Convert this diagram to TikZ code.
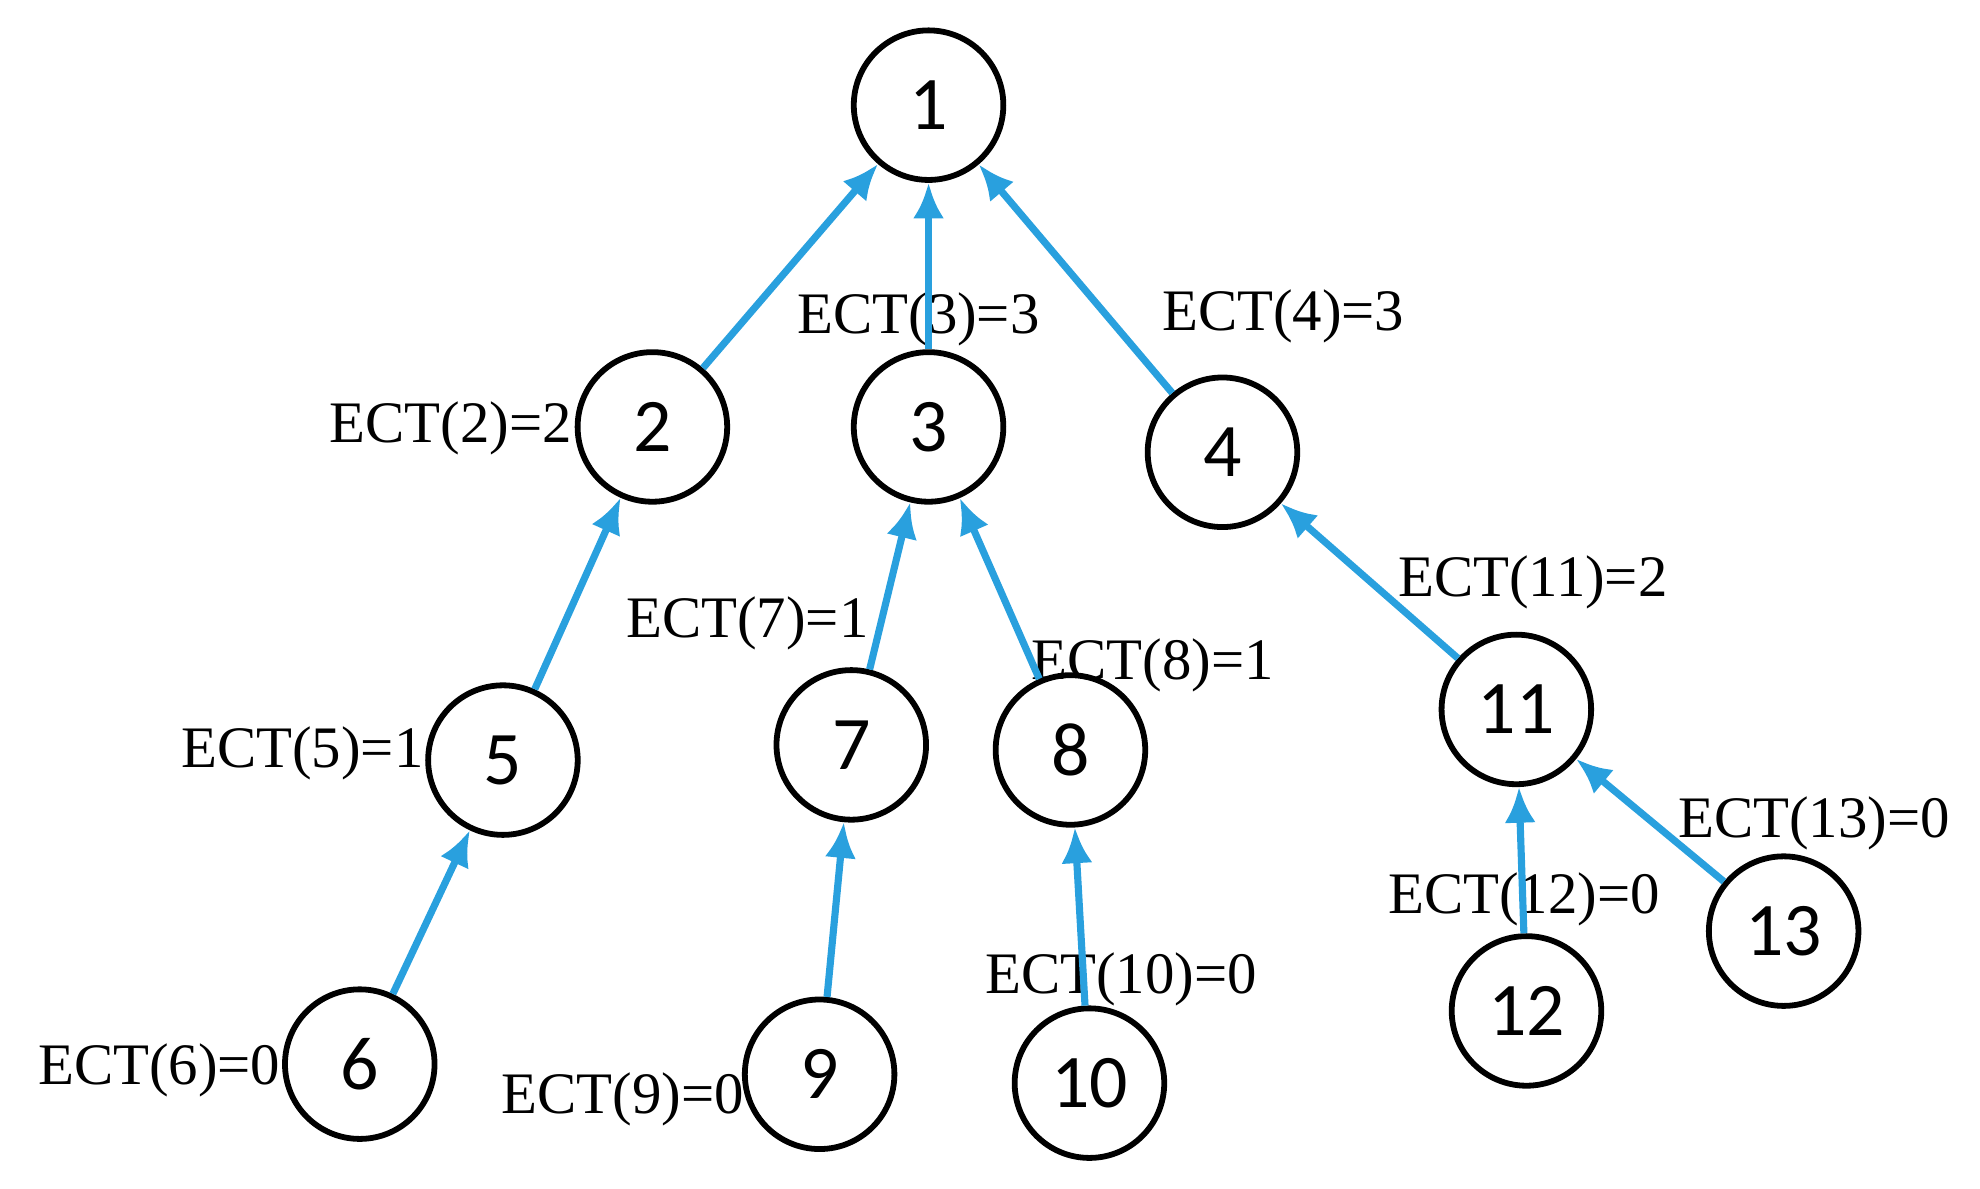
\documentclass[tikz,border=0pt]{standalone}
\usepackage{fontspec}
\setmainfont{Liberation Serif}
\newfontfamily\numf{Carlito}
\usetikzlibrary{arrows.meta}
\definecolor{eb}{RGB}{41,160,222}
\begin{document}
\begin{tikzpicture}[x=0.01cm,y=-0.01cm,
  nd/.style={circle,draw=black,line width=1.3pt,fill=white,minimum size=1.18cm,inner sep=0pt,font=\numf\fontsize{17}{17}\selectfont},
  lb/.style={font=\fontsize{13.2}{14}\selectfont,inner sep=0pt},
  ed/.style={draw=eb,line width=1.6pt,-{Latex[length=8pt,width=7pt]}}]
\useasboundingbox (0,0) rectangle (1563,938);
\node[nd] (n1) at (733,83) {1};
\node[nd] (n2) at (515,337) {2};
\node[nd] (n3) at (733,337) {3};
\node[nd] (n4) at (965,357) {4};
\node[nd] (n5) at (397,600) {5};
\node[nd] (n6) at (284,840) {6};
\node[nd] (n7) at (672,588) {7};
\node[nd] (n8) at (845,592) {8};
\node[nd] (n9) at (647,848) {9};
\node[nd] (n10) at (860,855) {10};
\node[nd] (n11) at (1197,560) {11};
\node[nd] (n12) at (1205,798) {12};
\node[nd] (n13) at (1408,735) {13};
\node[lb,anchor=east] (l2) at (452,338) {ECT(2)=2};
\node[lb] (l3) at (725,252) {ECT(3)=3};
\node[lb] (l4) at (1013,250) {ECT(4)=3};
\node[lb] (l7) at (590,492) {ECT(7)=1};
\node[lb] (l8) at (910,525) {ECT(8)=1};
\node[lb] (l11) at (1210,460) {ECT(11)=2};
\node[lb,anchor=east] (l5) at (335,595) {ECT(5)=1};
\node[lb,anchor=east] (l6) at (222,845) {ECT(6)=0};
\node[lb,anchor=east] (l9) at (588,868) {ECT(9)=0};
\node[lb] (l10) at (885,773) {ECT(10)=0};
\node[lb] (l12) at (1203,710) {ECT(12)=0};
\node[lb] (l13) at (1432,650) {ECT(13)=0};
\draw[ed] (n2) -- (n1);
\draw[ed] (n3) -- (n1);
\draw[ed] (n4) -- (n1);
\draw[ed] (n5) -- (n2);
\draw[ed] (n6) -- (n5);
\draw[ed] (n7) -- (n3);
\draw[ed] (n8) -- (n3);
\draw[ed] (n9) -- (n7);
\draw[ed] (n10) -- (n8);
\draw[ed] (n11) -- (n4);
\draw[ed] (n12) -- (n11);
\draw[ed] (n13) -- (n11);
\end{tikzpicture}
\end{document}
